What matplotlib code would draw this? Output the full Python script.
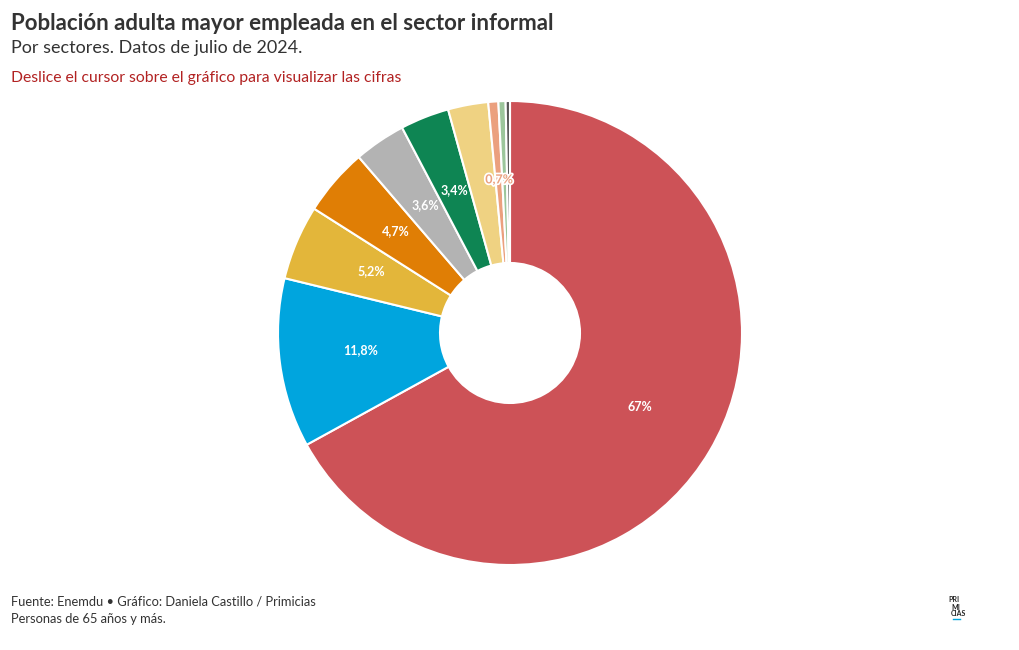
import numpy as np
import matplotlib.pyplot as plt
import matplotlib.patheffects as pe

# Sector shares (%), clockwise from the top
sectors = ['Sector 1', 'Sector 2', 'Sector 3', 'Sector 4', 'Sector 5', 'Sector 6',
           'Sector 7', 'Sector 8', 'Sector 9', 'Sector 10']
shares = [67.0, 11.8, 5.2, 4.7, 3.6, 3.4, 2.8, 0.7, 0.5, 0.3]
labels = ['67%', '11,8%', '5,2%', '4,7%', '3,6%', '3,4%', '', '0,7%', '', '']
colors = ['#CD5257', '#00A5DE', '#E3B63A', '#E07E05', '#B3B3B3', '#0E8553',
          '#EFD282', '#EBA07E', '#9CC69B', '#555555']

FONT = 'Lato'

fig = plt.figure(figsize=(10.2, 6.5), dpi=100)
ax = fig.add_axes([0, 0, 1, 1])

# donut centre and radii in pixel units
cx, cy, r_out, r_in = 510, 650 - 333, 232, 70
wedges, _ = ax.pie(shares, colors=colors, startangle=90, counterclock=False,
                   center=(cx, cy), radius=r_out, frame=True,
                   wedgeprops=dict(width=r_out - r_in, edgecolor='white', linewidth=1.5))
ax.set_xlim(0, 1020)
ax.set_ylim(0, 650)
ax.set_aspect('equal')
ax.axis('off')

r_mid = (r_out + r_in) / 2
for w, lab, col in zip(wedges, labels, colors):
    if not lab:
        continue
    ang = np.deg2rad((w.theta1 + w.theta2) / 2)
    x = cx + r_mid * np.cos(ang)
    y = cy + r_mid * np.sin(ang) + 3
    if lab == '0,7%':
        ax.text(x, y, lab, color=col, fontsize=9, fontweight='bold', family=FONT,
                ha='center', va='center',
                path_effects=[pe.withStroke(linewidth=2.5, foreground='white')])
    else:
        ax.text(x, y, lab, color='white', fontsize=9, fontweight='bold', family=FONT,
                ha='center', va='center')

fig.text(11 / 1020, 1 - 24 / 650, 'Población adulta mayor empleada en el sector informal',
         fontsize=16, fontweight='bold', color='#333333', family=FONT, va='center')
fig.text(11 / 1020, 1 - 48 / 650, 'Por sectores. Datos de julio de 2024.',
         fontsize=13, color='#333333', family=FONT, va='center')
fig.text(11 / 1020, 1 - 78 / 650, 'Deslice el cursor sobre el gráfico para visualizar las cifras',
         fontsize=11.3, color='#B22222', family=FONT, va='center')

fig.text(11 / 1020, 1 - 601 / 650, 'Fuente: Enemdu • Gráfico: Daniela Castillo / Primicias',
         fontsize=9.3, color='#333333', family=FONT, va='center')
fig.text(11 / 1020, 1 - 619 / 650, 'Personas de 65 años y más.',
         fontsize=9.3, color='#333333', family=FONT, va='center')

# logo
for i, t in enumerate(['PRI', 'MI', 'CIAS']):
    x0 = 948 if i == 0 else (951 if i == 1 else 951)
    fig.text(x0 / 1020, 1 - (600 + i * 7) / 650, t, fontsize=5, fontweight='bold',
             color='#222222', family=FONT, va='center')
ax.plot([953, 960], [650 - 619, 650 - 619], color='#00A5DE', linewidth=1)

fig.savefig('out.png', dpi=100, facecolor='white')
